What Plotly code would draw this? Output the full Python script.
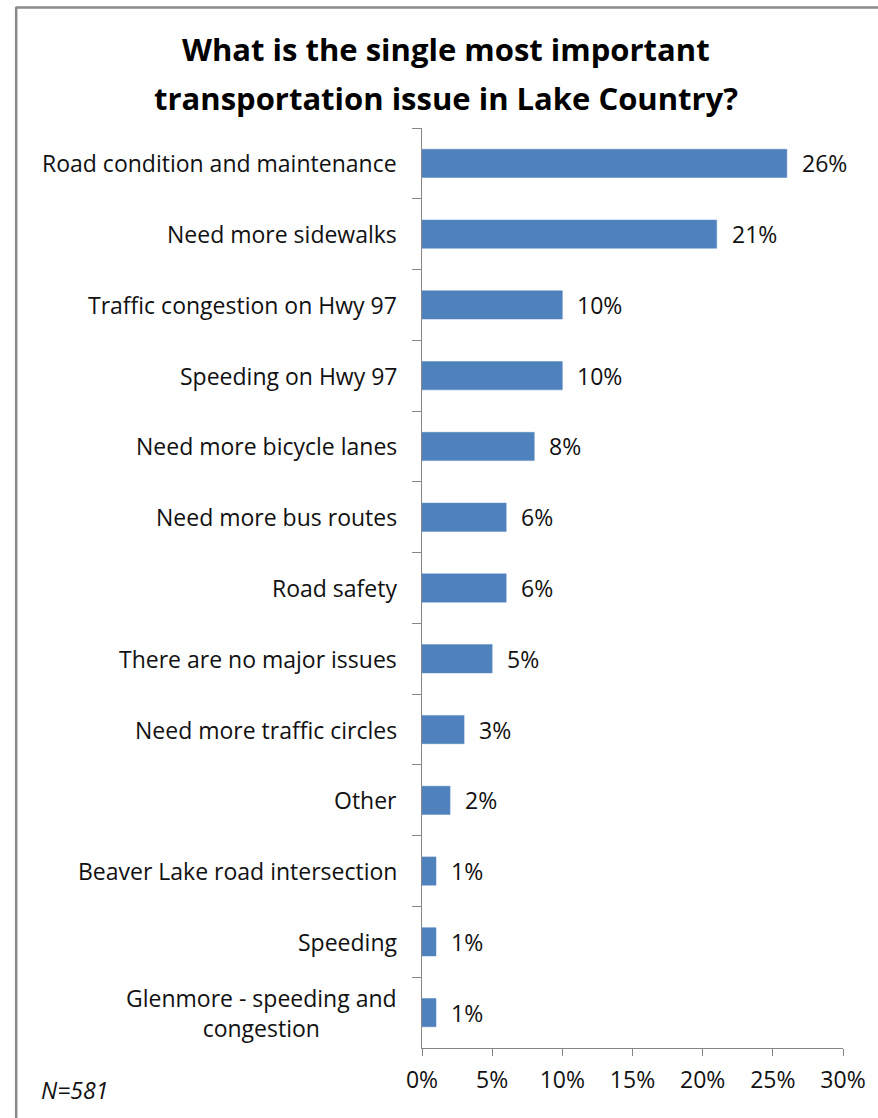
import plotly.graph_objects as go

# Survey responses, in the order they are listed (top to bottom)
issues = [
    "Road condition and maintenance",
    "Need more sidewalks",
    "Traffic congestion on Hwy 97",
    "Speeding on Hwy 97",
    "Need more bicycle lanes",
    "Need more bus routes",
    "Road safety",
    "There are no major issues",
    "Need more traffic circles",
    "Other",
    "Beaver Lake road intersection",
    "Speeding",
    "Glenmore - speeding and<br>congestion",
]
shares = [26, 21, 10, 10, 8, 6, 6, 5, 3, 2, 1, 1, 1]

x_ticks = [0, 5, 10, 15, 20, 25, 30]
x_tick_labels = ["0%", "5%", "10%", "15%", "20%", "25%", "30%"]
title_lines = ["What is the single most important",
               "transportation issue in Lake Country?"]
sample_note = "N=581"

W, H = 878, 1118
ML, MR, MT, MB = 422, 26, 128, 70
PW, PH = W - ML - MR, H - MT - MB

FONT = "'Open Sans', Lato, sans-serif"
BAR = "#4F81BD"
AXIS = "#868686"
TEXT = "#111111"
FS = 23


def px_x(px):
    return (px - ML) / PW


def px_y(py):
    return (H - MB - py) / PH


fig = go.Figure(
    go.Bar(
        x=shares,
        y=issues,
        orientation="h",
        marker=dict(color=BAR, line=dict(color="#5b8ac4", width=0.5)),
        hoverinfo="skip",
    )
)

annotations = []
# category labels, right aligned next to the axis, multi-line centred
for name in issues:
    annotations.append(dict(
        x=0, xref="paper", y=name, yref="y",
        text=name, showarrow=False, xanchor="right", yanchor="middle",
        align="center", xshift=-23,
        font=dict(family=FONT, size=FS, color=TEXT),
    ))
# value labels just past the end of each bar
for name, v in zip(issues, shares):
    annotations.append(dict(
        x=v, xref="x", y=name, yref="y",
        text=f"{v}%", showarrow=False, xanchor="left", yanchor="middle",
        xshift=13,
        font=dict(family=FONT, size=FS, color=TEXT),
    ))
# two-line bold title
for line, ypix in zip(title_lines, [49, 98]):
    annotations.append(dict(
        x=px_x(447), xref="paper", y=px_y(ypix), yref="paper",
        text=f"<b>{line}</b>", showarrow=False,
        xanchor="center", yanchor="middle",
        font=dict(family=FONT, size=31, color="#000000"),
    ))
# sample size note
annotations.append(dict(
    x=px_x(31), xref="paper", y=px_y(1090), yref="paper",
    text=f"<i>{sample_note}</i>", showarrow=False,
    xanchor="left", yanchor="middle",
    font=dict(family=FONT, size=FS, color=TEXT),
))

# chart frame (top and left edges)
shapes = [
    dict(type="line", xref="paper", yref="paper",
         x0=px_x(7), x1=px_x(W + 10), y0=px_y(7.5), y1=px_y(7.5),
         line=dict(color="#8a8a8a", width=2.5)),
    dict(type="line", xref="paper", yref="paper",
         x0=px_x(7.5), x1=px_x(7.5), y0=px_y(7), y1=px_y(H + 10),
         line=dict(color="#8a8a8a", width=2.5)),
]

fig.update_layout(
    width=W, height=H,
    margin=dict(l=ML, r=MR, t=MT, b=MB, pad=0),
    paper_bgcolor="white", plot_bgcolor="white",
    bargap=0.6,
    showlegend=False,
    annotations=annotations,
    shapes=shapes,
    font=dict(family=FONT, size=FS, color=TEXT),
)

fig.update_xaxes(
    range=[0, 30], tickvals=x_ticks, ticktext=x_tick_labels,
    showgrid=False, zeroline=False,
    showline=True, linecolor=AXIS, linewidth=1.3,
    ticks="outside", ticklen=7, tickcolor=AXIS, tickwidth=1.3,
    ticklabelstandoff=4,
    tickfont=dict(family=FONT, size=FS, color=TEXT),
)
fig.update_yaxes(
    categoryorder="array", categoryarray=issues, autorange="reversed",
    showticklabels=False, showgrid=False, zeroline=False,
    showline=True, linecolor=AXIS, linewidth=1.3,
    ticks="outside", tickson="boundaries", ticklen=9,
    tickcolor=AXIS, tickwidth=1.3,
)

fig.write_html("out.html")
